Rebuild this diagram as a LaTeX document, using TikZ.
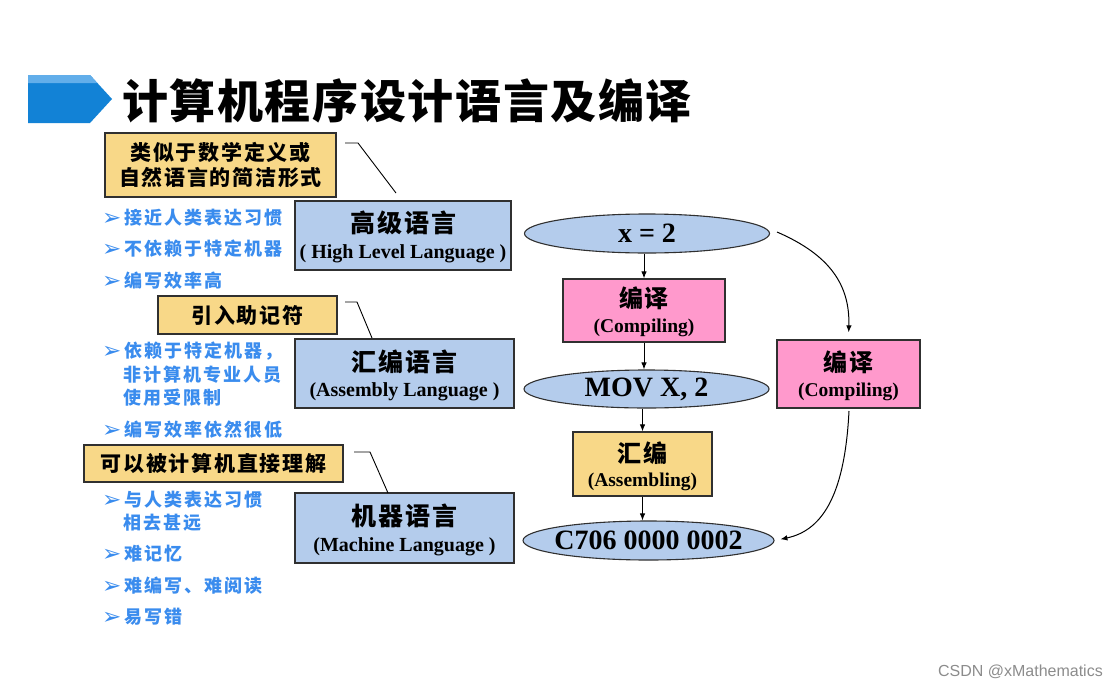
\documentclass[tikz,border=0pt]{standalone}
\usepackage{fontspec}
\setmainfont{Liberation Serif}
\setsansfont{Liberation Sans}
\newfontfamily\cjk[LetterSpace=8]{Noto Sans CJK SC}
\newfontfamily\cjkb[LetterSpace=11]{Noto Sans CJK SC}
\newfontfamily\cjkt[LetterSpace=3.5]{Noto Sans CJK SC}
\newfontfamily\symf{DejaVu Sans}
\usetikzlibrary{shapes.geometric,arrows.meta}
\definecolor{yel}{HTML}{F8D888}
\definecolor{blu}{HTML}{B4CCEC}
\definecolor{pnk}{HTML}{FF99CC}
\definecolor{bul}{HTML}{3A8CEE}
\definecolor{tblue}{HTML}{1282D6}
\definecolor{tblue2}{HTML}{62AEEA}
\definecolor{edge}{HTML}{303030}
\tikzset{
  box/.style={draw=edge, line width=1.2pt, inner sep=0pt},
  ybox/.style={box, fill=yel},
  bbox/.style={box, fill=blu},
  pbox/.style={box, fill=pnk},
  ell/.style={ellipse, draw=edge, line width=1.1pt, fill=blu, inner sep=0pt},
  elltext/.style={inner sep=0pt, font=\bfseries\fontsize{28}{30}\selectfont, text=black},
  zh/.style={font=\cjk\bfseries\fontsize{21}{25}\selectfont, text=black, align=center},
  zhbig/.style={font=\cjk\bfseries\fontsize{25}{28}\selectfont, text=black},
  zhmid/.style={font=\cjk\bfseries\fontsize{24}{26}\selectfont, text=black},
  en/.style={font=\bfseries\fontsize{20}{22}\selectfont, text=black},
  ensm/.style={font=\bfseries\fontsize{19.5}{21}\selectfont, text=black},
  bullet/.style={anchor=west, font=\cjkb\bfseries\fontsize{18}{21}\selectfont, text=bul, inner sep=0pt},
  conn/.style={draw=black, line width=0.9pt},
  arr/.style={draw=black, line width=1pt, -{Latex[length=7pt,width=5.5pt]}},
}
\newcommand{\bmark}{\raisebox{-1pt}{\symf\fontsize{23}{23}\selectfont ➢}\hspace{3pt}}
\begin{document}
\begin{tikzpicture}[x=1pt,y=-1pt]
\useasboundingbox (0,0) rectangle (1118,688);
\fill[white] (0,0) rectangle (1118,688);
% title banner
\fill[tblue] (28,75) -- (90,75) -- (112,99) -- (90,123) -- (28,123) -- cycle;
\fill[tblue2] (28,75) -- (90,75) -- (97.3,83) -- (28,83) -- cycle;
\node[anchor=west, inner sep=0pt, font=\cjkt\bfseries\fontsize{46}{50}\selectfont] (title) at (122,101) {计算机程序设计语言及编译};

% left boxes
\node[ybox, minimum width=231pt, minimum height=64pt] (b1) at (220.5,165) {};
\node[zh] (b1t) at (b1.center) {类似于数学定义或\\自然语言的简洁形式};
\node[bbox, minimum width=216pt, minimum height=69pt] (hl) at (403,235.5) {};
\node[zhbig] (hlz) at (403,223) {高级语言};
\node[en] (hle) at (403,254) {( High Level Language )};

\node[ybox, minimum width=179pt, minimum height=38pt] (b2) at (247.5,315) {};
\node[zh] (b2t) at (b2.center) {引入助记符};
\node[bbox, minimum width=219pt, minimum height=69pt] (asm) at (404.5,373.5) {};
\node[zhbig] (asmz) at (404.5,362) {汇编语言};
\node[en] (asme) at (404.5,392) {(Assembly Language )};

\node[ybox, minimum width=259pt, minimum height=37pt] (b3) at (213.5,463.5) {};
\node[zh] (b3t) at (b3.center) {可以被计算机直接理解};
\node[bbox, minimum width=219pt, minimum height=70pt] (mach) at (404.5,528) {};
\node[zhbig] (machz) at (404.5,516) {机器语言};
\node[en] (mache) at (404.5,547) {(Machine Language )};

% callout connectors
\coordinate (k1) at (345,143); \coordinate (k1e) at (396,193);
\draw[conn] (k1) -- ++(13,0) -- (k1e);
\coordinate (k2) at (345,302); \coordinate (k2e) at (372,338);
\draw[conn] (k2) -- ++(12,0) -- (k2e);
\coordinate (k3) at (354,452); \coordinate (k3e) at (388,493);
\draw[conn] (k3) -- ++(16,0) -- (k3e);

% bullets
\node[bullet] (l1) at (102,218) {\bmark 接近人类表达习惯};
\node[bullet] (l2) at (102,249) {\bmark 不依赖于特定机器};
\node[bullet] (l3) at (102,281) {\bmark 编写效率高};
\node[bullet] (l4) at (102,351) {\bmark 依赖于特定机器，};
\node[bullet] (l4b) at (123,375) {非计算机专业人员};
\node[bullet] (l4c) at (123,398) {使用受限制};
\node[bullet] (l5) at (102,430) {\bmark 编写效率依然很低};
\node[bullet] (l6) at (102,500) {\bmark 与人类表达习惯};
\node[bullet] (l6b) at (123,523) {相去甚远};
\node[bullet] (l7) at (102,554) {\bmark 难记忆};
\node[bullet] (l8) at (102,586) {\bmark 难编写、难阅读};
\node[bullet] (l9) at (102,617) {\bmark 易写错};

% right flow
\node[ell, minimum width=245pt, minimum height=39pt] (e1) at (647,233.5) {};
\node[elltext] (e1t) at (e1.center) {x = 2};
\node[pbox, minimum width=162pt, minimum height=63pt] (p1) at (644,310.5) {};
\node[zhmid] (p1z) at (644,298) {编译};
\node[ensm] (p1e) at (644,328) {(Compiling)};
\node[ell, minimum width=245pt, minimum height=38pt] (e2) at (646.5,389) {};
\node[elltext] (e2t) at (e2.center) {MOV X, 2};
\node[ybox, minimum width=139pt, minimum height=64pt] (a1) at (642.5,464) {};
\node[zhmid] (a1z) at (642.5,453) {汇编};
\node[ensm] (a1e) at (642.5,482) {(Assembling)};
\node[ell, minimum width=251pt, minimum height=39pt] (e3) at (648.5,540.5) {};
\node[elltext] (e3t) at (e3.center) {C706 0000 0002};
\node[pbox, minimum width=143pt, minimum height=68pt] (p2) at (848.5,374) {};
\node[zhmid] (p2z) at (848.5,362) {编译};
\node[ensm] (p2e) at (848.5,392) {(Compiling)};

\draw[arr] (e1.south -| p1.north) -- (p1.north);
\draw[arr] (p1.south) -- (p1.south |- e2.north);
\draw[arr] (e2.south -| a1.north) -- (a1.north);
\draw[arr] (a1.south) -- (a1.south |- e3.north);
\coordinate (c1) at (777,232);
\draw[arr, shorten >=7pt] (c1) .. controls (830,255) and (850,285) .. (p2.north);
\coordinate (c2) at (849,411);
\draw[arr, shorten >=6pt] (c2) .. controls (845,490) and (825,530) .. (e3.east);

% watermark
\node[anchor=east, inner sep=0pt, text=black!45, font=\sffamily\fontsize{16}{18}\selectfont] (wm) at (1103,672) {CSDN @xMathematics};
\end{tikzpicture}
\end{document}
